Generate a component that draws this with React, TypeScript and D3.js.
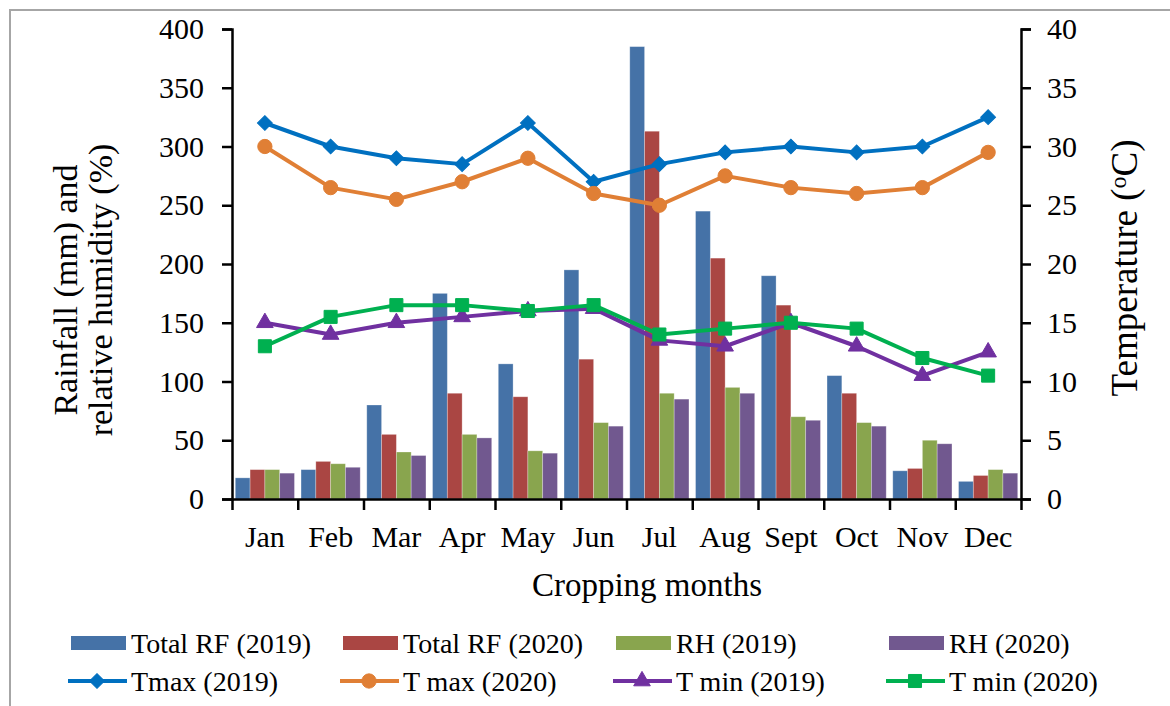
import React, { useRef, useEffect } from "react";
import * as d3 from "d3";

const months = ["Jan", "Feb", "Mar", "Apr", "May", "Jun", "Jul", "Aug", "Sept", "Oct", "Nov", "Dec"];
const rf2019 = [18, 25, 80, 175, 115, 195, 385, 245, 190, 105, 24, 15];
const rf2020 = [25, 32, 55, 90, 87, 119, 313, 205, 165, 90, 26, 20];
const rh2019 = [25, 30, 40, 55, 41, 65, 90, 95, 70, 65, 50, 25];
const rh2020 = [22, 27, 37, 52, 39, 62, 85, 90, 67, 62, 47, 22];
const tmax2019 = [32, 30, 29, 28.5, 32, 27, 28.5, 29.5, 30, 29.5, 30, 32.5];
const tmax2020 = [30, 26.5, 25.5, 27, 29, 26, 25, 27.5, 26.5, 26, 26.5, 29.5];
const tmin2019 = [15, 14, 15, 15.5, 16, 16.2, 13.5, 13, 15, 13, 10.5, 12.5];
const tmin2020 = [13, 15.5, 16.5, 16.5, 16, 16.5, 14, 14.5, 15, 14.5, 12, 10.5];

const barSeries = [
  { name: "Total RF (2019)", values: rf2019, color: "#4572A7" },
  { name: "Total RF (2020)", values: rf2020, color: "#AA4643" },
  { name: "RH (2019)", values: rh2019, color: "#89A54E" },
  { name: "RH (2020)", values: rh2020, color: "#71588F" },
];
const lineSeries = [
  { name: "Tmax (2019)", values: tmax2019, color: "#0070C0", symbol: "diamond" },
  { name: "T max (2020)", values: tmax2020, color: "#E07F35", symbol: "circle" },
  { name: "T min (2019)", values: tmin2019, color: "#7030A0", symbol: "triangle" },
  { name: "T min (2020)", values: tmin2020, color: "#00B050", symbol: "square" },
];

const font = "'Liberation Serif', 'Times New Roman', serif";
const W = 1170;
const H = 706;
const left = 232;
const right = 1021;
const top = 29;
const bottom = 499;

const x = d3.scaleBand().domain(months).range([left, right]).paddingInner(0.1).paddingOuter(0.05);
const xInner = d3.scaleBand().domain(barSeries.map((s) => s.name)).range([0, x.bandwidth()]);
const yLeft = d3.scaleLinear().domain([0, 400]).range([bottom, top]);
const yRight = d3.scaleLinear().domain([0, 40]).range([bottom, top]);
const xBoundary = d3.scaleLinear().domain([0, 12]).range([left, right]);

function markerPath(symbol) {
  if (symbol === "diamond") return d3.symbol(d3.symbolSquare, 110)();
  if (symbol === "circle") return d3.symbol(d3.symbolCircle, 160)();
  if (symbol === "triangle") return d3.symbol(d3.symbolTriangle, 120)();
  return d3.symbol(d3.symbolSquare, 170)();
}

function Marker({ symbol, color, cx, cy }) {
  const rot = symbol === "diamond" ? 45 : 0;
  return (
    <path
      d={markerPath(symbol)}
      transform={`translate(${cx},${cy}) rotate(${rot})`}
      fill={color}
      stroke={color}
      strokeWidth={1}
    />
  );
}

export default function App() {
  const gLeft = useRef(null);
  const gRight = useRef(null);
  const gBottom = useRef(null);

  useEffect(() => {
    const styleAxis = (g) => {
      g.select(".domain").attr("stroke", "#000").attr("stroke-width", 2.5);
      g.selectAll(".tick line").attr("stroke", "#000").attr("stroke-width", 2.5);
      g.selectAll("text").attr("font-family", font).attr("font-size", 30).attr("fill", "#000");
    };
    d3.select(gLeft.current)
      .call(d3.axisLeft(yLeft).tickValues(d3.range(0, 401, 50)).tickSize(10).tickSizeOuter(10).tickPadding(18))
      .call(styleAxis);
    d3.select(gRight.current)
      .call(d3.axisRight(yRight).tickValues(d3.range(0, 41, 5)).tickSize(10).tickSizeOuter(10).tickPadding(16))
      .call(styleAxis);
    d3.select(gBottom.current)
      .call(d3.axisBottom(xBoundary).tickValues(d3.range(0, 13)).tickSize(11).tickSizeOuter(0).tickFormat(() => ""))
      .call(styleAxis);
  }, []);

  const lineGen = (values) =>
    d3
      .line()
      .x((d, i) => x(months[i]) + x.bandwidth() / 2)
      .y((d) => yRight(d))(values);

  const legendCols = [71, 343, 616, 889];

  return (
    <svg width={W} height={H} style={{ position: "absolute", left: 0, top: 0, background: "#fff" }}>
      <rect x={10} y={10} width={1300} height={900} fill="none" stroke="#a6a6a6" strokeWidth={2} />

      {barSeries.map((s) => (
        <g key={s.name}>
          {s.values.map((v, i) => (
            <rect
              key={i}
              x={x(months[i]) + xInner(s.name)}
              y={yLeft(v)}
              width={xInner.bandwidth()}
              height={yLeft(0) - yLeft(v)}
              fill={s.color}
              stroke="#ffffff"
              strokeOpacity={0.35}
              strokeWidth={0.8}
            />
          ))}
        </g>
      ))}

      <g ref={gLeft} transform={`translate(${left},0)`} />
      <g ref={gRight} transform={`translate(${right},0)`} />
      <g ref={gBottom} transform={`translate(0,${bottom})`} />

      {months.map((m) => (
        <text
          key={m}
          x={x(m) + x.bandwidth() / 2}
          y={547}
          textAnchor="middle"
          fontFamily={font}
          fontSize={30}
        >
          {m}
        </text>
      ))}

      {lineSeries.map((s) => (
        <g key={s.name}>
          <path d={lineGen(s.values)} fill="none" stroke={s.color} strokeWidth={4} strokeLinejoin="round" />
          {s.values.map((v, i) => (
            <Marker key={i} symbol={s.symbol} color={s.color} cx={x(months[i]) + x.bandwidth() / 2} cy={yRight(v)} />
          ))}
        </g>
      ))}

      <text x={647} y={596} textAnchor="middle" fontFamily={font} fontSize={33}>
        Cropping months
      </text>
      <text transform="translate(77,290) rotate(-90)" textAnchor="middle" fontFamily={font} fontSize={34}>
        Rainfall (mm) and
      </text>
      <text transform="translate(112,290) rotate(-90)" textAnchor="middle" fontFamily={font} fontSize={34}>
        relative humidity (%)
      </text>
      <text transform="translate(1137,268) rotate(-90)" textAnchor="middle" fontFamily={font} fontSize={37}>
        Temperature (<tspan dy={-11} fontSize={24}>o</tspan>
        <tspan dy={11}>C)</tspan>
      </text>

      {barSeries.map((s, i) => (
        <g key={s.name} transform={`translate(${legendCols[i]},643)`}>
          <rect x={0} y={-7} width={55} height={14} fill={s.color} />
          <text x={60} y={10} fontFamily={font} fontSize={28}>
            {s.name}
          </text>
        </g>
      ))}
      {lineSeries.map((s, i) => (
        <g key={s.name} transform={`translate(${legendCols[i]},681)`}>
          <line x1={-3} x2={56} y1={0} y2={0} stroke={s.color} strokeWidth={4} />
          <Marker symbol={s.symbol} color={s.color} cx={26} cy={0} />
          <text x={60} y={10} fontFamily={font} fontSize={28}>
            {s.name}
          </text>
        </g>
      ))}
    </svg>
  );
}
